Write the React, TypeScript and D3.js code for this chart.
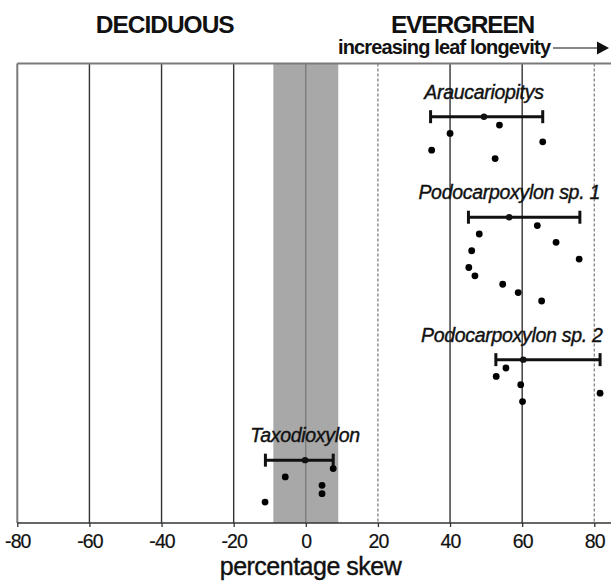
import React, { useRef, useEffect } from 'react';
import * as d3 from 'd3';

// values (percentage skew), one entry per taxon
const taxa = ['Araucariopitys', 'Podocarpoxylon sp. 1', 'Podocarpoxylon sp. 2', 'Taxodioxylon'];
const barRows = [6, 18, 35, 47];
const means = [49.4, 56.4, 60.3, -0.2];
const mins = [34.6, 45.1, 52.7, -11.2];
const maxs = [65.7, 76.0, 81.6, 7.6];
const samples = [
  [53.7, 40.0, 65.7, 34.9, 52.5],
  [64.2, 48.1, 69.4, 46.0, 75.8, 45.2, 46.9, 54.6, 58.9, 65.4],
  [55.5, 52.8, 59.6, 81.6, 60.1],
  [7.6, -5.7, 4.5, 4.5, -11.3],
];
const xTicks = [-80, -60, -40, -20, 0, 20, 40, 60, 80];
const dashedTicks = [20, 80];
const neutralBand = [-9, 9];

const W = 611;
const H = 584;
const FONT = '"Liberation Sans", Arial, Helvetica, sans-serif';

const App = () => {
  const svgRef = useRef<SVGSVGElement | null>(null);

  useEffect(() => {
    const svg = d3.select(svgRef.current);
    svg.selectAll('*').remove();

    const left = 17.3, top = 63.5, bottom = 523;
    const x = d3.scaleLinear().domain([-80, 80]).range([left, 594.3]);
    const y = d3.scaleLinear().domain([-0.35, 54.5]).range([top, bottom]);
    const g = svg.append('g');

    // neutral band
    g.append('rect')
      .attr('x', x(neutralBand[0])).attr('y', top)
      .attr('width', x(neutralBand[1]) - x(neutralBand[0])).attr('height', bottom - top)
      .attr('fill', '#a8a8a8');

    // vertical grid lines
    xTicks.slice(1).forEach(t => {
      const dashed = dashedTicks.includes(t);
      g.append('line')
        .attr('x1', x(t)).attr('x2', x(t)).attr('y1', top).attr('y2', bottom)
        .attr('stroke', dashed ? '#8a8a8a' : t === 0 ? '#6a6a6a' : '#333')
        .attr('stroke-width', t === 0 ? 1 : 1.4)
        .attr('stroke-dasharray', dashed ? '3 2' : null);
    });

    // frame: top and left
    g.append('line').attr('x1', left).attr('x2', W).attr('y1', top).attr('y2', top)
      .attr('stroke', '#7a7a7a').attr('stroke-width', 2);
    g.append('line').attr('x1', left).attr('x2', left).attr('y1', top).attr('y2', bottom)
      .attr('stroke', '#7a7a7a').attr('stroke-width', 2);

    // x axis
    const axis = g.append('g').attr('transform', `translate(0,${bottom})`)
      .call(d3.axisBottom(x).tickValues(xTicks).tickSize(4).tickPadding(7).tickFormat(d3.format('d')));
    axis.select('.domain').remove();
    axis.append('line').attr('x1', left).attr('x2', W).attr('y1', 0).attr('y2', 0)
      .attr('stroke', '#333').attr('stroke-width', 1.5);
    axis.selectAll('.tick line').attr('stroke', '#333').attr('stroke-width', 1.3);
    axis.selectAll('.tick text')
      .attr('font-family', FONT).attr('font-size', 19.5).attr('fill', '#111')
      .attr('letter-spacing', -0.9)
      .attr('stroke', '#111').attr('stroke-width', 0.2)
      .text(d => String(d).replace('−', '-'));

    svg.append('text').attr('x', 310.5).attr('y', 575).attr('text-anchor', 'middle')
      .attr('font-family', FONT).attr('font-size', 25).attr('fill', '#111')
      .attr('letter-spacing', -0.5)
      .attr('stroke', '#111').attr('stroke-width', 0.4)
      .text('percentage skew');

    // headings
    svg.append('text').attr('x', 164.7).attr('y', 33).attr('text-anchor', 'middle')
      .attr('font-family', FONT).attr('font-size', 24.5).attr('font-weight', 'bold')
      .attr('letter-spacing', -1).attr('fill', '#111').text('DECIDUOUS');
    svg.append('text').attr('x', 462.5).attr('y', 33).attr('text-anchor', 'middle')
      .attr('font-family', FONT).attr('font-size', 24.5).attr('font-weight', 'bold')
      .attr('letter-spacing', -1.2).attr('fill', '#111').text('EVERGREEN');
    svg.append('text').attr('x', 338).attr('y', 54)
      .attr('font-family', FONT).attr('font-size', 20).attr('font-weight', 'bold')
      .attr('letter-spacing', -0.85).attr('fill', '#111').text('increasing leaf longevity');
    svg.append('line').attr('x1', 553).attr('x2', 600).attr('y1', 48).attr('y2', 48)
      .attr('stroke', '#111').attr('stroke-width', 1.2);
    svg.append('path').attr('d', 'M597,41.5 L609,48 L597,54.5 Z').attr('fill', '#111');

    // taxa: label, min-max bar with mean, individual samples
    taxa.forEach((name, i) => {
      const by = y(barRows[i]);
      const label = g.append('text')
        .attr('x', x(means[i])).attr('y', by - 18).attr('text-anchor', 'middle')
        .attr('font-family', FONT).attr('font-size', 19.5).attr('font-style', 'italic')
        .attr('letter-spacing', -0.3).attr('fill', '#111')
        .attr('stroke', '#111').attr('stroke-width', 0.4)
        .text(name);
      const bb = (label.node() as SVGTextElement).getBBox();
      if (bb.x + bb.width > 603) label.attr('x', x(means[i]) - (bb.x + bb.width - 603));

      g.append('line').attr('x1', x(mins[i])).attr('x2', x(maxs[i])).attr('y1', by).attr('y2', by)
        .attr('stroke', '#111').attr('stroke-width', 3);
      [mins[i], maxs[i]].forEach(v => {
        g.append('line').attr('x1', x(v)).attr('x2', x(v)).attr('y1', by - 6.5).attr('y2', by + 6.5)
          .attr('stroke', '#111').attr('stroke-width', 3);
      });
      g.append('circle').attr('cx', x(means[i])).attr('cy', by).attr('r', 3.2).attr('fill', '#111');

      g.selectAll(null).data(samples[i]).enter().append('circle')
        .attr('cx', d => x(d)).attr('cy', (_, j) => y(barRows[i] + 1 + j))
        .attr('r', 3.4).attr('fill', '#000');
    });
  }, []);

  return (
    <svg ref={svgRef} width={W} height={H}
      style={{ position: 'absolute', left: 0, top: 0, background: '#fff' }} />
  );
};

export default App;
